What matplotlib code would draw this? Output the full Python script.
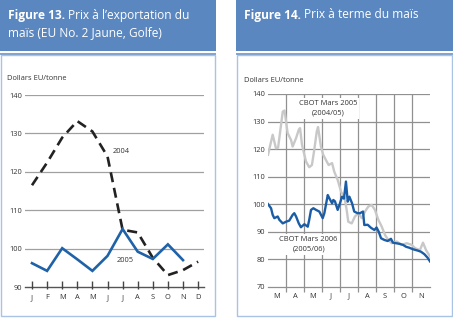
import matplotlib
matplotlib.use("Agg")
import matplotlib.pyplot as plt
from matplotlib.patches import Rectangle

plt.rcParams['font.family'] = ['Open Sans', 'DejaVu Sans']

# ---------------- data: Figure 13 ----------------
months13 = ['J', 'F', 'M', 'A', 'M', 'J', 'J', 'A', 'S', 'O', 'N', 'D']
price_2004 = [116.5, 122.4, 128.9, 133.2, 130.5, 124.0, 104.9, 104.2, 97.6, 93.1, 94.4, 96.6]
price_2005 = [96.2, 94.2, 100.1, 97.2, 94.2, 98.1, 105.1, 99.2, 97.3, 101.1, 97.0]
yticks13 = [90, 100, 110, 120, 130, 140]

# ---------------- data: Figure 14 ----------------
months14 = ['M', 'A', 'M', 'J', 'J', 'A', 'S', 'O', 'N']
# x = months elapsed since 1 March
cbot05_x = [0.0, 0.26, 0.44, 0.56, 0.82, 0.92, 1.09, 1.28, 1.37, 1.56, 1.71, 1.78, 1.89,
            2.11, 2.29, 2.44, 2.57, 2.71, 2.78, 2.94, 3.07, 3.22, 3.37, 3.56, 3.68, 3.87,
            4.06, 4.25, 4.37, 4.46, 4.65, 4.83, 5.02, 5.21, 5.39, 5.57, 5.76, 5.94, 6.13,
            6.32, 6.5, 6.68, 6.87, 7.15, 7.43, 7.71, 7.98, 8.17, 8.44, 8.61, 8.78, 9.0]
cbot05_y = [117.9, 125.2, 120.3, 120.5, 133.6, 134.0, 125.8, 123.3, 120.9, 124.0, 127.0, 127.6, 121.5,
            115.5, 113.4, 114.2, 119.7, 126.4, 128.0, 120.9, 117.9, 116.0, 114.2, 114.9, 111.8, 108.8,
            104.5, 102.5, 97.9, 93.6, 93.0, 95.5, 96.7, 94.9, 97.3, 99.1, 99.7, 97.9, 94.3,
            91.8, 88.8, 87.0, 85.8, 86.4, 85.2, 85.8, 85.2, 84.0, 83.3, 86.0, 83.3, 81.0]
cbot06_x = [0.0, 0.17, 0.26, 0.35, 0.54, 0.63, 0.82, 1.0, 1.18, 1.37, 1.46, 1.56, 1.71, 1.83,
            2.02, 2.21, 2.29, 2.39, 2.52, 2.67, 2.85, 3.04, 3.13, 3.32, 3.41, 3.56, 3.63, 3.72,
            3.87, 4.0, 4.11, 4.22, 4.33, 4.43, 4.52, 4.67, 4.79, 4.98, 5.11, 5.28, 5.35, 5.54,
            5.72, 5.91, 6.03, 6.15, 6.28, 6.46, 6.65, 6.83, 6.94, 7.28, 7.5, 7.67, 7.83, 8.06,
            8.33, 8.5, 8.69, 8.87, 9.0]
cbot06_y = [100.0, 98.5, 96.1, 94.9, 95.5, 94.3, 93.0, 93.6, 94.0, 96.1, 96.7, 95.5, 93.0, 91.6,
            92.7, 91.8, 94.3, 97.9, 98.5, 97.9, 97.3, 94.9, 96.7, 103.3, 102.1, 100.3, 101.5, 101.0,
            97.9, 100.3, 102.7, 102.0, 108.2, 100.9, 102.7, 100.3, 97.3, 96.7, 96.7, 97.3, 92.4, 92.5,
            91.4, 90.6, 91.5, 90.0, 87.6, 87.0, 86.6, 87.4, 86.0, 85.6, 85.2, 84.5, 84.2, 83.6,
            83.1, 82.7, 81.8, 80.5, 79.2]
yticks14 = [70, 80, 90, 100, 110, 120, 130, 140]

W, H = 453, 320
fig = plt.figure(figsize=(W / 100, H / 100), dpi=100)
renderer = fig.canvas.get_renderer()

def fx(x):
    return x / W

def fy(y):
    return 1 - y / H

HEADER = '#5b87c0'
BORDER = '#a8c3e3'
TITLEFS = 8.6

def panel(x0, x1, title_bold, title_rest):
    fig.add_artist(Rectangle((fx(x0), fy(50.7)), fx(x1 - x0), 50.7 / H,
                             transform=fig.transFigure, facecolor=HEADER, edgecolor='none',
                             zorder=-5))
    fig.add_artist(Rectangle((fx(x0 + 1), fy(316)), fx(x1 - x0 - 2), (316 - 54.5) / H,
                             transform=fig.transFigure, facecolor='white', edgecolor=BORDER,
                             lw=1.0, zorder=-5))
    fig.add_artist(plt.Line2D([fx(x0 + 1), fx(x1 - 1)], [fy(54.3), fy(54.3)],
                              transform=fig.transFigure, color='#7fa2d0', lw=1.4, zorder=-4))
    lines = title_rest.split('\n')
    t1 = fig.text(fx(x0 + 8), fy(21.5), title_bold, color='white', fontsize=TITLEFS,
                  fontweight='bold', va='bottom', ha='left')
    bb = t1.get_window_extent(renderer)
    fig.text((bb.x1 + 3) / W, fy(21.5), lines[0], color='white', fontsize=TITLEFS,
             va='bottom', ha='left')
    if len(lines) > 1:
        fig.text(fx(x0 + 8), fy(39.5), lines[1], color='white', fontsize=TITLEFS,
                 va='bottom', ha='left')

panel(0, 216, 'Figure 13.', 'Prix à l\u2019exportation du\nmaïs (EU No. 2 Jaune, Golfe)')
panel(236, 453, 'Figure 14.', 'Prix à terme du maïs')

TICKFS = 5.4
TXT = '#333333'

# ---------------- Figure 13 axes ----------------
x_left, x_right = 25, 204
y_top, y_bot = 95, 287
ax1 = fig.add_axes([fx(x_left), fy(y_bot), fx(x_right - x_left), (y_bot - y_top) / H])
ax1.set_facecolor('none')
xs13 = list(range(len(months13)))
ax1.set_xlim((x_left - 32) / 15.1, (x_right - 32) / 15.1)
ax1.set_ylim(90, 140)
for s in ['top', 'right', 'left']:
    ax1.spines[s].set_visible(False)
ax1.spines['bottom'].set_color('#555555')
ax1.spines['bottom'].set_linewidth(1.0)
ax1.set_yticks(yticks13)
ax1.set_yticklabels([str(v) for v in yticks13])
ax1.set_xticks(xs13)
ax1.set_xticklabels(months13)
ax1.tick_params(axis='both', length=0, labelsize=TICKFS, labelcolor=TXT)
ax1.tick_params(axis='y', pad=2.2)
ax1.tick_params(axis='x', pad=5.2)
for v in yticks13[1:]:
    ax1.axhline(v, color='#a0a0a0', lw=0.9, zorder=1)
ax1.vlines(xs13, -0.011, 0.032, transform=ax1.get_xaxis_transform(), color='#444444',
           lw=1.0, clip_on=False, zorder=3)
ax1.plot(xs13, price_2004, color='#222222', lw=1.9, dashes=(3.8, 2.2), zorder=4,
         solid_capstyle='butt', dash_capstyle='butt')
ax1.plot(xs13[:len(price_2005)], price_2005, color='#1f62a8', lw=1.9, zorder=5,
         solid_joinstyle='miter')
ax1.text(5.9, 125.2, '2004', fontsize=TICKFS, color=TXT, ha='center', va='center')
ax1.text(6.2, 97.0, '2005', fontsize=TICKFS, color=TXT, ha='center', va='center')
fig.text(fx(7), fy(79), 'Dollars EU/tonne', fontsize=TICKFS, color=TXT, va='center', ha='left')

# ---------------- Figure 14 axes ----------------
x_left2, x_right2 = 268, 430
y_top2, y_bot2 = 94, 286.7
ax2 = fig.add_axes([fx(x_left2), fy(y_bot2), fx(x_right2 - x_left2), (y_bot2 - y_top2) / H])
ax2.set_facecolor('none')
ax2.set_xlim(0, len(months14))
ax2.set_ylim(70, 140)
for s in ['top', 'right', 'left']:
    ax2.spines[s].set_visible(False)
ax2.spines['bottom'].set_color('#909090')
ax2.spines['bottom'].set_linewidth(0.9)
ax2.set_yticks(yticks14)
ax2.set_yticklabels([str(v) for v in yticks14])
ax2.set_xticks(range(1, len(months14)))
ax2.set_xticklabels([])
ax2.set_xticks([i + 0.5 for i in range(len(months14))], minor=True)
ax2.set_xticklabels(months14, minor=True)
ax2.tick_params(axis='y', length=0, labelsize=TICKFS, labelcolor=TXT, pad=2.2)
ax2.tick_params(axis='x', which='major', direction='out', length=3.6, width=0.9, color='#909090')
ax2.tick_params(axis='x', which='minor', length=0, labelsize=TICKFS, labelcolor=TXT, pad=4.2)
for v in yticks14[1:]:
    ax2.axhline(v, color='#909090', lw=0.9, zorder=1)
for i in range(1, len(months14)):
    ax2.axvline(i, color='#909090', lw=0.9, zorder=1)
ax2.text(3.32, 134.7, 'CBOT Mars 2005\n(2004/05)', fontsize=TICKFS, color=TXT, ha='center',
         va='center', linespacing=1.5, zorder=2,
         bbox=dict(facecolor='white', edgecolor='none', pad=1.5))
ax2.text(2.26, 85.3, 'CBOT Mars 2006\n(2005/06)', fontsize=TICKFS, color=TXT, ha='center',
         va='center', linespacing=1.5, zorder=2,
         bbox=dict(facecolor='white', edgecolor='none', pad=1.5))
ax2.plot(cbot05_x, cbot05_y, color='#c8c8c8', lw=1.7, zorder=3)
ax2.plot(cbot06_x, cbot06_y, color='#1a5da6', lw=1.7, zorder=4)
fig.text(fx(244), fy(80), 'Dollars EU/tonne', fontsize=TICKFS, color=TXT, va='center', ha='left')

fig.savefig('out.png', dpi=100)
